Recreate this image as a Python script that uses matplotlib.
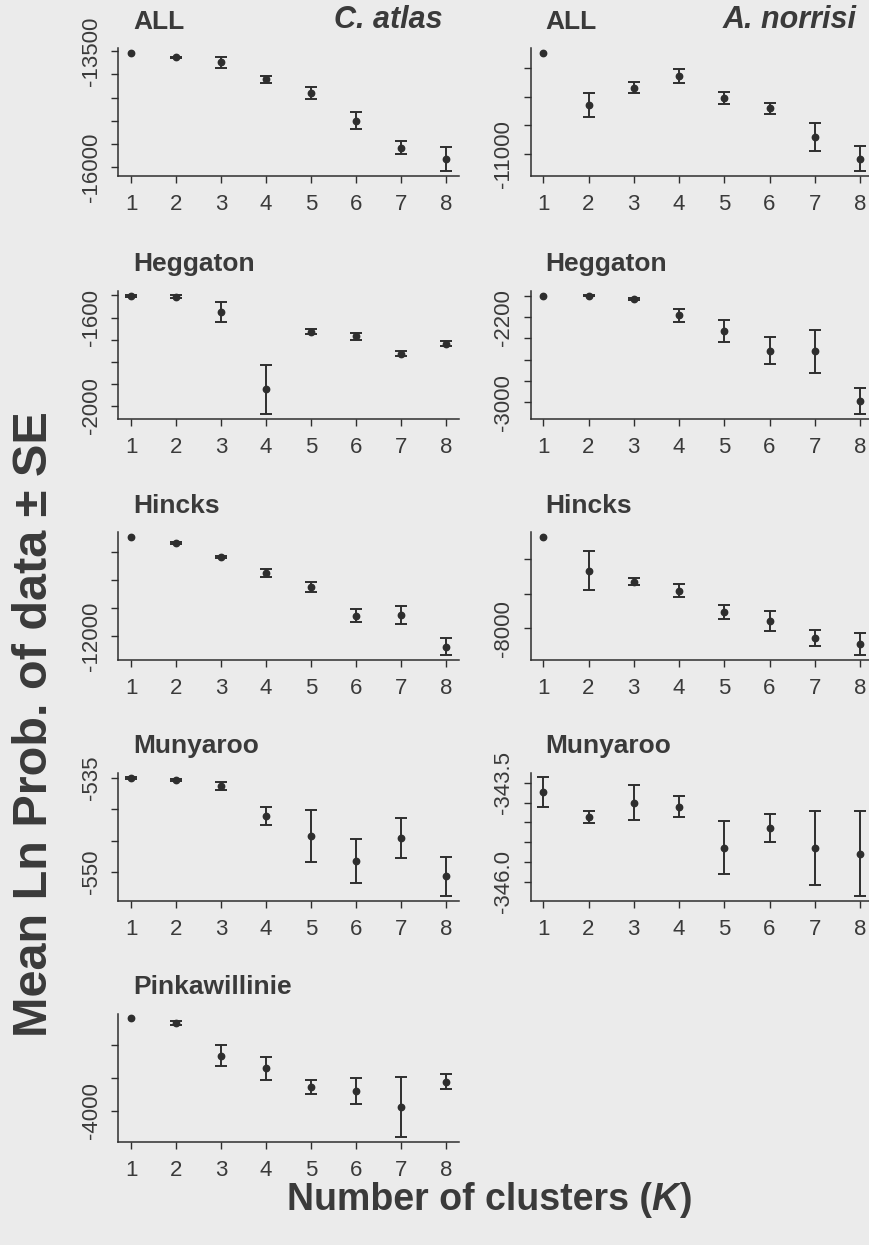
import matplotlib.pyplot as plt
import numpy as np

plt.rcParams['font.family'] = ['Liberation Sans', 'DejaVu Sans']

K = [1, 2, 3, 4, 5, 6, 7, 8]

# C. atlas
atlas_all_mean = [-13537, -13637, -13746, -14109, -14398, -15000, -15580, -15820]
atlas_all_se = [0, 15, 120, 72, 134, 181, 138, 264]
atlas_hegg_mean = [-1504, -1505, -1573, -1925, -1665, -1685, -1763, -1718]
atlas_hegg_se = [5, 5, 45, 111, 11, 15, 10, 10]
atlas_hinc_mean = [-10234, -10340, -10594, -10878, -11126, -11635, -11628, -12190]
atlas_hinc_se = [0, 18, 15, 65, 95, 118, 162, 151]
atlas_muny_mean = [-535.0, -535.3, -536.3, -541.1, -544.2, -548.2, -544.6, -550.7]
atlas_muny_se = [0.12, 0.12, 0.66, 1.4, 4.13, 3.55, 3.16, 3.08]
atlas_pink_mean = [-2585, -2661, -3156, -3353, -3636, -3706, -3939, -3555]
atlas_pink_se = [0, 35, 157, 174, 109, 199, 460, 114]

# A. norrisi
norr_all_mean = [-9223, -10140, -9837, -9632, -10012, -10198, -10707, -11088]
norr_all_se = [0, 216, 94, 129, 105, 94, 249, 219]
norr_hegg_mean = [-2000, -2000, -2031, -2184, -2328, -2516, -2522, -2987]
norr_hegg_se = [0, 5, 12, 59, 102, 125, 201, 119]
norr_hinc_mean = [-6680, -7170, -7329, -7458, -7761, -7899, -8140, -8231]
norr_hinc_se = [0, 279, 55, 98, 101, 144, 120, 161]
norr_muny_mean = [-343.73, -344.36, -344.0, -344.1, -345.14, -344.64, -345.14, -345.29]
norr_muny_se = [0.375, 0.15, 0.45, 0.27, 0.68, 0.35, 0.94, 1.07]

# y ticks and the labels that are printed
atlas_all_ticks = [-13500, -14000, -14500, -15000, -15500, -16000]
atlas_all_labels = ['-13500', '', '', '', '', '-16000']
atlas_hegg_ticks = [-1500, -1600, -1700, -1800, -1900, -2000]
atlas_hegg_labels = ['', '-1600', '', '', '', '-2000']
atlas_hinc_ticks = [-10500, -11000, -11500, -12000]
atlas_hinc_labels = ['', '', '', '-12000']
atlas_muny_ticks = [-535, -540, -545, -550]
atlas_muny_labels = ['-535', '', '', '-550']
atlas_pink_ticks = [-3000, -3500, -4000]
atlas_pink_labels = ['', '', '-4000']
norr_all_ticks = [-9500, -10000, -10500, -11000]
norr_all_labels = ['', '', '', '-11000']
norr_hegg_ticks = [-2000, -2200, -2400, -2600, -2800, -3000]
norr_hegg_labels = ['', '-2200', '', '', '', '-3000']
norr_hinc_ticks = [-7000, -7500, -8000]
norr_hinc_labels = ['', '', '-8000']
norr_muny_ticks = [-343.5, -344.0, -344.5, -345.0, -345.5, -346.0]
norr_muny_labels = ['-343.5', '', '', '', '', '-346.0']

panels = [
    (0, 0, 'ALL', atlas_all_mean, atlas_all_se, atlas_all_ticks, atlas_all_labels),
    (0, 1, 'Heggaton', atlas_hegg_mean, atlas_hegg_se, atlas_hegg_ticks, atlas_hegg_labels),
    (0, 2, 'Hincks', atlas_hinc_mean, atlas_hinc_se, atlas_hinc_ticks, atlas_hinc_labels),
    (0, 3, 'Munyaroo', atlas_muny_mean, atlas_muny_se, atlas_muny_ticks, atlas_muny_labels),
    (0, 4, 'Pinkawillinie', atlas_pink_mean, atlas_pink_se, atlas_pink_ticks, atlas_pink_labels),
    (1, 0, 'ALL', norr_all_mean, norr_all_se, norr_all_ticks, norr_all_labels),
    (1, 1, 'Heggaton', norr_hegg_mean, norr_hegg_se, norr_hegg_ticks, norr_hegg_labels),
    (1, 2, 'Hincks', norr_hinc_mean, norr_hinc_se, norr_hinc_ticks, norr_hinc_labels),
    (1, 3, 'Munyaroo', norr_muny_mean, norr_muny_se, norr_muny_ticks, norr_muny_labels),
]
species = ['C. atlas', 'A. norrisi']

BG = '#ebebeb'
INK = '#2e2e2e'
TXT = '#3a3a3a'
W, H = 870, 1245
col_left = [118.4, 530.6]
col_width = [340.6, 342.1]
row_top = [48, 290.5, 532, 772.5, 1013.5]
ax_h = 128

fig = plt.figure(figsize=(W / 100, H / 100), dpi=100, facecolor=BG)

for col, row, name, mean, se, ticks, labels in panels:
    rect = [col_left[col] / W, 1 - (row_top[row] + ax_h) / H, col_width[col] / W, ax_h / H]
    ax = fig.add_axes(rect)
    ax.set_facecolor(BG)
    mean = np.array(mean)
    se = np.array(se)
    has = se > 0
    ax.errorbar(np.array(K)[has], mean[has], yerr=se[has], fmt='none', ecolor=INK,
                elinewidth=1.4, capsize=4.6, capthick=1.4)
    ax.plot(K, mean, 'o', color=INK, ms=4.6, mec=INK)

    # R style axis limits (4% extension)
    lo, hi = (mean - se).min(), (mean + se).max()
    pad = (hi - lo) * 0.04
    ax.set_ylim(lo - pad, hi + pad)
    ax.set_xlim(1 - 7 * 0.04, 8 + 7 * 0.04)

    ax.set_xticks(K)
    ax.set_xticklabels([str(k) for k in K])
    ax.set_yticks(ticks)
    ax.set_yticklabels(labels, rotation=90, va='center')
    for s in ['top', 'right']:
        ax.spines[s].set_visible(False)
    for s in ['left', 'bottom']:
        ax.spines[s].set_color(INK)
        ax.spines[s].set_linewidth(1.1)
    ax.tick_params(direction='out', length=5, width=1.0, color=INK, labelcolor=TXT, labelsize=16)
    ax.tick_params(axis='x', pad=8)
    ax.tick_params(axis='y', pad=7)

    ax.text(0.043, 1.152, name, transform=ax.transAxes, ha='left', va='baseline',
            fontsize=19, fontweight='bold', color=TXT)
    if row == 0:
        ax.text(0.953, 1.16, species[col], transform=ax.transAxes, ha='right', va='baseline',
                fontsize=22, fontweight='bold', fontstyle='italic', color=TXT)

fig.text(35 / W, 1 - 724 / H, 'Mean Ln Prob. of data \u00b1 SE', rotation=90, ha='center', va='center',
         fontsize=35, fontweight='bold', color=TXT)

# x label with italic K
renderer = fig.canvas.get_renderer()
y_lab = 1 - 1210 / H
parts = [('Number of clusters (', 'normal'), ('K', 'italic'), (')', 'normal')]
objs = [fig.text(0, y_lab, t, fontsize=27, fontweight='bold', fontstyle=st, color=TXT, va='baseline')
        for t, st in parts]
widths = [o.get_window_extent(renderer).width for o in objs]
x = 489 - sum(widths) / 2
for o, w in zip(objs, widths):
    o.set_x(x / W)
    x += w

fig.savefig('out.png', dpi=100, facecolor=BG)
